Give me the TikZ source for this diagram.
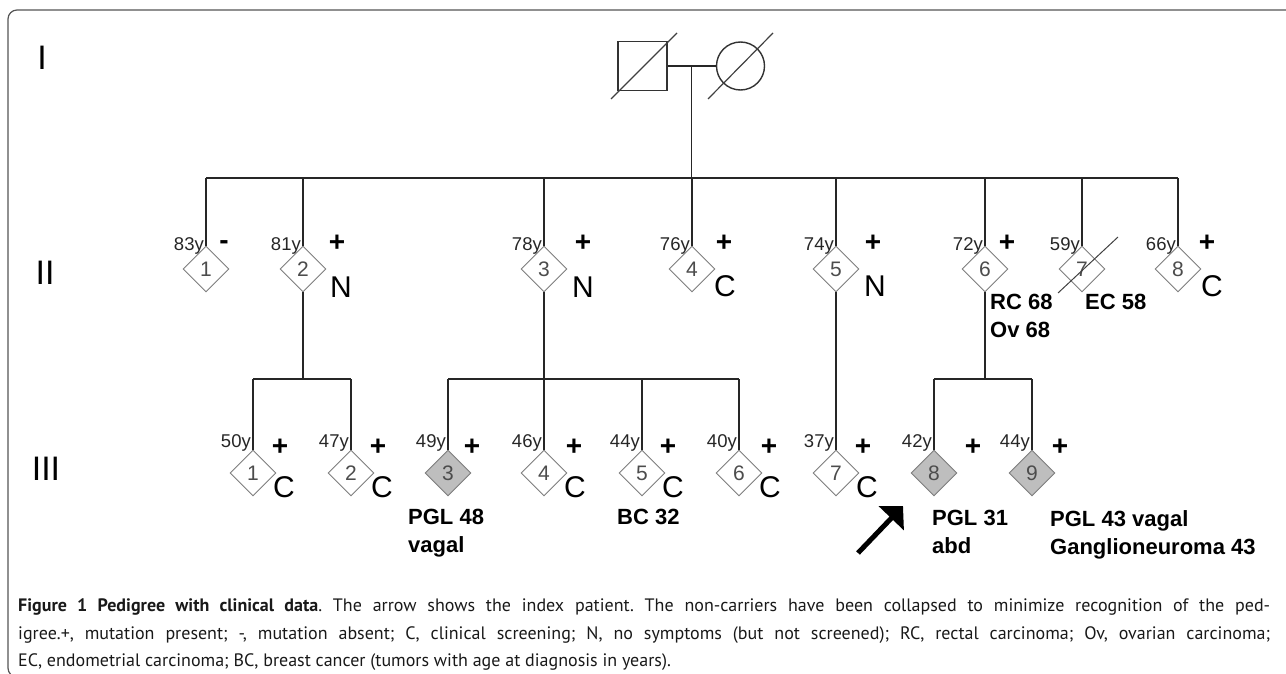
\documentclass[tikz,border=0pt]{standalone}
\usepackage{fontspec}
\setmainfont{Liberation Sans}
\newfontfamily\capfont{PT Sans}
\usetikzlibrary{arrows.meta, positioning, calc, shapes.geometric}

\definecolor{affgray}{RGB}{190,190,190}
\definecolor{rimgray}{RGB}{125,125,125}
\definecolor{framegray}{RGB}{85,85,85}

\tikzset{
  link/.style={line width=1.1pt, black!85},
  strike/.style={line width=1pt, black!75},
  ind/.style={diamond, draw=rimgray, line width=0.9pt, minimum width=46pt, minimum height=46pt,
    inner sep=0pt, text=black!70, font=\fontsize{21}{21}\selectfont},
  aff/.style={ind, fill=affgray},
  sqr/.style={draw=black!80, line width=1.4pt, minimum size=49pt, inner sep=0pt},
  crc/.style={circle, draw=black!80, line width=1.4pt, minimum size=48pt, inner sep=0pt},
  age/.style={anchor=base east, inner sep=0pt, text=black!85, font=\fontsize{18.5}{18.5}\selectfont},
  sgn/.style={inner sep=0pt, font=\fontsize{28}{28}\selectfont\bfseries},
  scr/.style={inner sep=0pt, font=\fontsize{30}{30}\selectfont},
  dx/.style={anchor=north west, inner sep=0pt, align=left, font=\fontsize{22}{28}\selectfont\bfseries},
  gen/.style={anchor=base, inner sep=0pt, font=\fontsize{34}{34}\selectfont},
  captext/.style={anchor=base west, inner sep=0pt, text=black!90, font=\capfont\fontsize{18}{20}\selectfont\frenchspacing},
}

\begin{document}
\begin{tikzpicture}[x=1pt, y=-1pt]
    \useasboundingbox (0,0) rectangle (1286,674);
    \draw[framegray, line width=1.2pt, rounded corners=9pt] (8,10) rectangle (1300,677);

    % generation labels
    \node[gen] (gI) at (42,70) {I};
    \node[gen] (gII) at (45,284) {II};
    \node[gen] (gIII) at (46,480) {III};

    % couple
    \node[sqr] (f) at (642.5,66) {};
    \node[crc] (m) at (740.5,66) {};
    \draw[strike, line width=1.2pt] ($(f)+(-31.5,33)$) -- ($(f)+(34.5,-33)$);
    \draw[strike, line width=1.2pt] ($(m)+(-32.5,33)$) -- ($(m)+(32.5,-33)$);
    \draw[link] (f) -- (m);
    \coordinate (fm) at ($(f.east)!0.5!(m.west)$);

    % generation II
    \coordinate (sibII) at (0,178);
    \foreach \n/\x/\age in {1/206/83y, 2/303/81y, 3/544/78y, 4/692/76y, 5/836/74y, 6/985/72y, 7/1082/59y, 8/1178/66y}{
        \node[ind] (d2\n) at (\x,269) {\n};
        \node[age] (a2\n) at (\x-2,251) {\age};
        \draw[link] (d2\n.north) -- (d2\n |- sibII);
    }
    \draw[link] (fm) -- (fm |- sibII);
    \draw[link] (d21 |- sibII) -- (d28 |- sibII);
    \draw[strike] ($(d27)+(-24,24)$) -- ($(d27)+(36,-32)$);

    \node[sgn] (s21) at (224,245) {-};
    \node[sgn] (s22) at (337,243) {+};
    \node[sgn] (s23) at (583,243) {+};
    \node[sgn] (s24) at (724,243) {+};
    \node[sgn] (s25) at (873,243) {+};
    \node[sgn] (s26) at (1007,243) {+};
    \node[sgn] (s28) at (1207,243) {+};

    \node[scr] (c22) at (341,287) {N};
    \node[scr] (c23) at (583,287) {N};
    \node[scr] (c24) at (725,286) {C};
    \node[scr] (c25) at (875,286) {N};
    \node[scr] (c28) at (1212,286) {C};

    \node[dx] (x26) at (990,294) {RC 68\\Ov 68};
    \node[dx] (x27) at (1085,294) {EC 58};

    % generation III
    \foreach \n/\x/\age/\st in {1/253/50y/ind, 2/351/47y/ind, 3/448/49y/aff, 4/544/46y/ind, 5/642/44y/ind,
        6/739/40y/ind, 7/836/37y/ind, 8/934/42y/aff, 9/1032/44y/aff}{
        \node[\st] (d3\n) at (\x,473) {\n};
        \node[age] (a3\n) at (\x-2,447) {\age};
    }
    \coordinate (sibIII) at (0,379);
    \foreach \n in {1,2,3,4,5,6,8,9}
        \draw[link] (d3\n.north) -- (d3\n |- sibIII);
    \draw[link] (d22.south) -- (d22 |- sibIII);
    \draw[link] (d23.south) -- (d23 |- sibIII);
    \draw[link] (d26.south) -- (d26 |- sibIII);
    \draw[link] (d25.south) -- (d37.north);
    \draw[link] (d31 |- sibIII) -- (d32 |- sibIII);
    \draw[link] (d33 |- sibIII) -- (d36 |- sibIII);
    \draw[link] (d38 |- sibIII) -- (d39 |- sibIII);

    \foreach \n/\dx in {1/27, 2/27, 3/24, 4/30, 5/26, 6/30, 7/27, 8/39, 9/28}
        \node[sgn] (s3\n) at ($(d3\n)+(\dx,-26)$) {+};
    \foreach \n in {1,2,4,5,6,7}
        \node[scr] (c3\n) at ($(d3\n)+(31,14)$) {C};

    \node[dx] (x33) at (408,509) {PGL 48\\vagal};
    \node[dx] (x35) at (617,509) {BC 32};
    \node[dx] (x38) at (932,510) {PGL 31\\abd};
    \node[dx] (x39) at (1050,510) {PGL 43 vagal\\Ganglioneuroma 43};

    % index patient
    \coordinate (arrtail) at (858,553);
    \coordinate (arrtip) at (903,506);
    \draw[line width=5pt, -{Triangle[length=17pt, width=34pt]}] (arrtail) -- (arrtip);

    % caption
    \node[captext] (cap1) at (18,611) {\makebox[1252pt][s]{\textbf{Figure 1 Pedigree with clinical data}. The arrow shows the index patient. The non-carriers have been collapsed to minimize recognition of the ped-}};
    \node[captext] (cap2) at (18,639) {\makebox[1252pt][s]{igree.+, mutation present; -, mutation absent; C, clinical screening; N, no symptoms (but not screened); RC, rectal carcinoma; Ov, ovarian carcinoma;}};
    \node[captext] (cap3) at (18,666) {EC, endometrial carcinoma; BC, breast cancer (tumors with age at diagnosis in years).};
\end{tikzpicture}
\end{document}
